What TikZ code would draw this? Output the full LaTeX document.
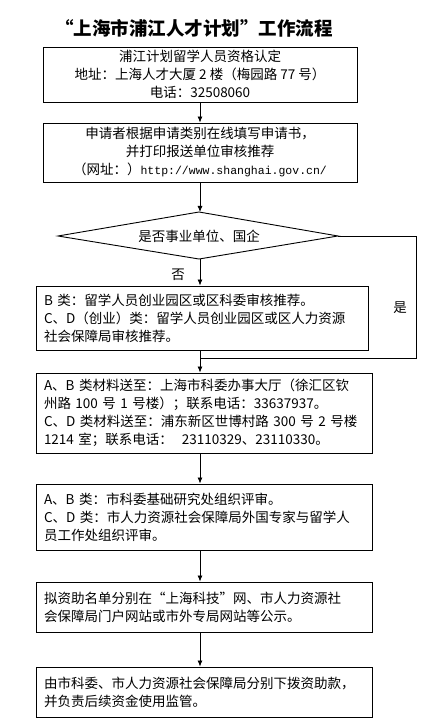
\documentclass[tikz,border=0pt]{standalone}
\usepackage{fontspec}
\setmainfont{Noto Sans CJK SC}
\newfontfamily\urlfont{Liberation Mono}
\usetikzlibrary{shapes.geometric,arrows.meta}
\tikzset{
  box/.style={draw, line width=0.9pt, inner sep=0pt, font=\fontsize{13.5}{18}\selectfont},
  cbox/.style={box, align=center},
  lbox/.style={box, align=left, text width=320pt},
  arr/.style={line width=0.8pt, -{Latex[length=6pt,width=5pt]}},
  ln/.style={line width=0.8pt},
  lbl/.style={font=\fontsize{13.5}{16}\selectfont, inner sep=0pt}
}
\begin{document}
\begin{tikzpicture}[x=1pt,y=-1pt]
\useasboundingbox (0,0) rectangle (436,727);
\coordinate (spine) at (200,0);
\node[font=\fontsize{18.5}{20}\selectfont\bfseries, inner sep=0pt] (title) at (194,28) {“上海市浦江人才计划”工作流程};
\node[cbox, minimum width=314pt, minimum height=55pt] (b1) at (200,74.5)
  {浦江计划留学人员资格认定\\地址：上海人才大厦 2 楼（梅园路 77 号）\\电话：32508060};
\node[cbox, minimum width=314pt, minimum height=59pt] (b2) at (200,152.5)
  {申请者根据申请类别在线填写申请书，\\并打印报送单位审核推荐\\（网址：）{\urlfont\fontsize{11.5}{18}\selectfont http://www.shanghai.gov.cn/}};
% decision diamond
\coordinate (dN) at (199,212);
\coordinate (dS) at (199,259);
\coordinate (dW) at (58,236);
\coordinate (dE) at (338,236);
\draw[line width=0.9pt] (dN) -- (dE) -- (dS) -- (dW) -- cycle;
\node[font=\fontsize{13.5}{16}\selectfont, inner sep=0pt] (dia) at (199,236) {是否事业单位、国企};
\node[lbox, minimum width=332pt, minimum height=64pt, text width=316pt] (b3) at (202,318)
  {B 类：留学人员创业园区或区科委审核推荐。\\C、D（创业）类：留学人员创业园区或区人力资源\\社会保障局审核推荐。};
\node[lbox, minimum width=336pt, minimum height=80pt] (b4) at (204,413)
  {A、B 类材料送至：上海市科委办事大厅（徐汇区钦\\州路 100 号 1 号楼）；联系电话：33637937。\\C、D 类材料送至：浦东新区世博村路 300 号 2 号楼\\1214 室；联系电话：\ \ 23110329、23110330。};
\node[lbox, minimum width=336pt, minimum height=66pt] (b5) at (204,517)
  {A、B 类：市科委基础研究处组织评审。\\C、D 类：市人力资源社会保障局外国专家与留学人\\员工作处组织评审。};
\node[lbox, minimum width=336pt, minimum height=50pt] (b6) at (204,607)
  {拟资助名单分别在“上海科技”网、市人力资源社\\会保障局门户网站或市外专局网站等公示。};
\node[lbox, minimum width=336pt, minimum height=50pt] (b7) at (204,692)
  {由市科委、市人力资源社会保障局分别下拨资助款，\\并负责后续资金使用监管。};
\node[lbl] (no) at (178,275) {否};
\node[lbl] (yes) at (400,308) {是};
\coordinate (rt) at (416,358);
\coordinate (jn) at (200,358);
\draw[arr] (b1.south -| spine) -- (b2.north -| spine);
\draw[arr] (b2.south -| spine) -- (dN -| spine);
\draw[arr] (dS -| spine) -- (b3.north -| spine);
\draw[arr] (b3.south -| spine) -- (b4.north -| spine);
\draw[ln] (dE) -| (rt) -- (jn);
\draw[arr] (b4.south -| spine) -- (b5.north -| spine);
\draw[arr] (b5.south -| spine) -- (b6.north -| spine);
\draw[arr] (b6.south -| spine) -- (b7.north -| spine);
\end{tikzpicture}
\end{document}
